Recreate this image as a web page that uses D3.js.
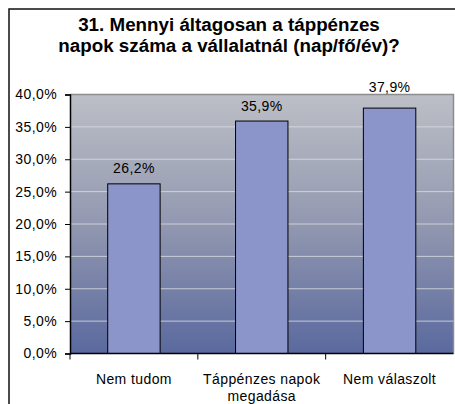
<!DOCTYPE html>
<html>
<head>
<meta charset="utf-8">
<script src="https://cdn.jsdelivr.net/npm/d3@7"></script>
<style>
  body { margin: 0; background: #fff; }
  svg { display: block; font-family: Arial, "Liberation Sans", sans-serif; }
</style>
</head>
<body>
<div id="chart"></div>
<script>
// data
var titleLines = ["31. Mennyi áltagosan a táppénzes", "napok száma a vállalatnál (nap/fő/év)?"];
var categories = ["Nem tudom", "Táppénzes napok megadása", "Nem válaszolt"];
var categoryLines = [["Nem tudom"], ["Táppénzes napok", "megadása"], ["Nem válaszolt"]];
var values = [26.2, 35.9, 37.9];
var yTicks = [0, 5, 10, 15, 20, 25, 30, 35, 40];

var W = 455, H = 404;
var margin = {top: 94.5, right: 1.5, bottom: 50.5, left: 70};
var width = W - margin.left - margin.right,
    height = H - margin.top - margin.bottom;

var pct = function(d) { return d3.format(".1f")(d).replace(".", ",") + "%"; };

var svg = d3.select("#chart").append("svg")
    .attr("width", W)
    .attr("height", H);

// outer chart frame (runs off the bottom/right of the crop)
svg.append("rect")
    .attr("x", 9).attr("y", 9)
    .attr("width", W + 20).attr("height", H + 20)
    .attr("fill", "none")
    .attr("stroke", "#111")
    .attr("stroke-width", 1.5);

// title
svg.append("text")
    .attr("x", 229)
    .attr("y", 31)
    .attr("text-anchor", "middle")
    .style("font-weight", "bold")
    .style("font-size", "18.8px")
  .selectAll("tspan")
    .data(titleLines)
  .enter().append("tspan")
    .attr("x", 229)
    .attr("dy", function(d, i) { return i === 0 ? 0 : 21; })
    .text(function(d) { return d; });

var defs = svg.append("defs");
var grad = defs.append("linearGradient")
    .attr("id", "bg")
    .attr("x1", 0).attr("y1", 0).attr("x2", 0).attr("y2", 1);
grad.append("stop").attr("offset", "0%").attr("stop-color", "#bcbfc6");
grad.append("stop").attr("offset", "50%").attr("stop-color", "#9298b0");
grad.append("stop").attr("offset", "100%").attr("stop-color", "#5a699e");

var g = svg.append("g")
    .attr("transform", "translate(" + margin.left + "," + margin.top + ")");

var x = d3.scaleBand()
    .domain(categories)
    .range([0, width])
    .paddingInner(0.59)
    .paddingOuter(0.295);

var xb = d3.scaleBand()
    .domain(categories)
    .range([0, width]);

var y = d3.scaleLinear()
    .domain([0, 40])
    .range([height, 0]);

// plot area
g.append("rect")
    .attr("width", width)
    .attr("height", height)
    .attr("fill", "url(#bg)");

g.append("path")
    .attr("d", "M0,0H" + width + "V" + height)
    .attr("fill", "none")
    .attr("stroke", "#8a8c90")
    .attr("stroke-width", 1.5);

// gridlines
g.selectAll(".grid")
    .data(yTicks.filter(function(d) { return d > 0 && d < 40; }))
  .enter().append("line")
    .attr("x1", 0).attr("x2", width)
    .attr("y1", function(d) { return y(d); })
    .attr("y2", function(d) { return y(d); })
    .attr("stroke", "#dcdfe6")
    .attr("stroke-opacity", 0.8)
    .attr("stroke-width", 1);

// bars
g.selectAll(".bar")
    .data(values)
  .enter().append("rect")
    .attr("x", function(d, i) { return x(categories[i]); })
    .attr("y", function(d) { return y(d); })
    .attr("width", x.bandwidth())
    .attr("height", function(d) { return height - y(d); })
    .attr("fill", "#8b95c9")
    .attr("stroke", "#000")
    .attr("stroke-width", 1);

// value labels - pushed above the plot area if they would cross its top edge
g.selectAll(".val")
    .data(values)
  .enter().append("text")
    .attr("x", function(d, i) { return x(categories[i]) + x.bandwidth() / 2; })
    .attr("y", function(d) {
      var b = y(d) - 10.5;
      return b < 11 ? -2.5 : b;
    })
    .attr("text-anchor", "middle")
    .style("font-size", "14px")
    .style("letter-spacing", "0.4px")
    .text(pct);

// y axis
var yAxis = g.append("g")
    .call(d3.axisLeft(y).tickValues(yTicks).tickSize(5).tickPadding(8).tickFormat(pct));
yAxis.select(".domain").attr("stroke", "#000").attr("stroke-width", 1.5);
yAxis.selectAll(".tick line").attr("stroke", "#000");
yAxis.selectAll("text")
    .attr("fill", "#000")
    .style("font-size", "14px")
    .style("letter-spacing", "0.4px")
    .style("font-family", "Arial, 'Liberation Sans', sans-serif");

// x axis (ticks at category boundaries)
var xAxis = g.append("g")
    .attr("transform", "translate(0," + height + ")");
xAxis.append("line")
    .attr("x1", 0).attr("x2", width)
    .attr("stroke", "#000")
    .attr("stroke-width", 1.5);
xAxis.selectAll(".xt")
    .data(categories)
  .enter().append("line")
    .attr("x1", function(d) { return xb(d); })
    .attr("x2", function(d) { return xb(d); })
    .attr("y1", 0).attr("y2", 6)
    .attr("stroke", "#000");

var labels = xAxis.selectAll(".xl")
    .data(categoryLines)
  .enter().append("text")
    .attr("text-anchor", "middle")
    .attr("y", 30)
    .style("font-size", "14px")
    .style("letter-spacing", "0.4px");
labels.selectAll("tspan")
    .data(function(d, i) { return d.map(function(t) { return {t: t, c: categories[i]}; }); })
  .enter().append("tspan")
    .attr("x", function(d) { return xb(d.c) + xb.bandwidth() / 2; })
    .attr("dy", function(d, i) { return i === 0 ? 0 : 17; })
    .text(function(d) { return d.t; });
</script>
</body>
</html>
